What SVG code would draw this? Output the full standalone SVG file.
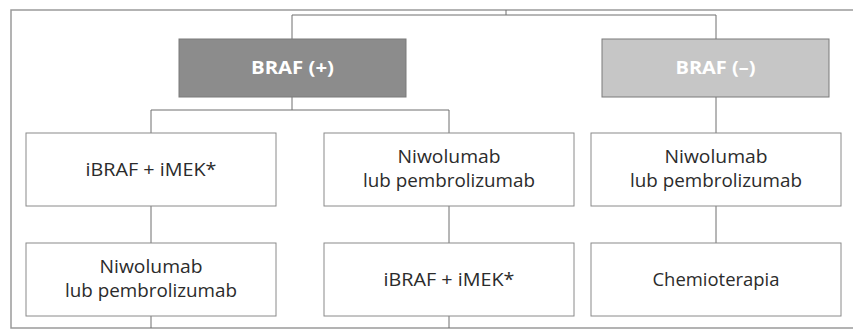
<svg xmlns="http://www.w3.org/2000/svg" width="853" height="334" viewBox="0 0 853 334">
<style>
.frame{fill:none;stroke:#9a9a9a;stroke-width:1.5}
.box{fill:#fff;stroke:#8a8a8a;stroke-width:1}
.hdr{stroke:#7a7a7a;stroke-width:1}
.c{fill:none;stroke:#6e6e6e;stroke-width:1}
.t{font-family:"Open Sans","Noto Sans",sans-serif;font-size:19px;fill:#2b2b2b;text-anchor:middle}
.h{font-family:"Open Sans","Noto Sans",sans-serif;font-size:17px;font-weight:bold;fill:#fff;text-anchor:middle}
</style>
<rect width="853" height="334" fill="#fff"/>
<path class="frame" d="M853,10 H11 V328 H853"/>
<g id="connectors">
<path class="c" d="M506,10 V15 M292,15 H716 M292,15 V39 M716,15 V39"/>
<path class="c" d="M292,97 V110 M151,110 H449 M151,110 V133 M449,110 V133 M716,97 V133"/>
<path class="c" d="M151,206 V243 M449,206 V243 M716,206 V243"/>
<path class="c" d="M151,316 V328 M449,316 V328"/>
</g>
<g id="braf-pos">
<rect class="hdr" x="179" y="39" width="227" height="58" fill="#8c8c8c"/>
<text class="h" x="292.5" y="74" textLength="83" lengthAdjust="spacingAndGlyphs">BRAF (+)</text>
</g>
<g id="braf-neg">
<rect class="hdr" x="602" y="39" width="227" height="58" fill="#c6c6c6"/>
<text class="h" x="715.5" y="74" textLength="80" lengthAdjust="spacingAndGlyphs">BRAF (–)</text>
</g>
<g id="n1">
<rect class="box" x="26" y="133" width="250" height="73"/>
<text class="t" x="151" y="176" textLength="131" lengthAdjust="spacingAndGlyphs">iBRAF + iMEK*</text>
</g>
<g id="n2">
<rect class="box" x="324" y="133" width="250" height="73"/>
<text class="t" x="449" y="162.5" textLength="103" lengthAdjust="spacingAndGlyphs">Niwolumab</text>
<text class="t" x="449" y="186.5" textLength="172" lengthAdjust="spacingAndGlyphs">lub pembrolizumab</text>
</g>
<g id="n3">
<rect class="box" x="591" y="133" width="250" height="73"/>
<text class="t" x="716" y="162.5" textLength="103" lengthAdjust="spacingAndGlyphs">Niwolumab</text>
<text class="t" x="716" y="186.5" textLength="172" lengthAdjust="spacingAndGlyphs">lub pembrolizumab</text>
</g>
<g id="n4">
<rect class="box" x="26" y="243" width="250" height="73"/>
<text class="t" x="151" y="272.5" textLength="103" lengthAdjust="spacingAndGlyphs">Niwolumab</text>
<text class="t" x="151" y="296.5" textLength="172" lengthAdjust="spacingAndGlyphs">lub pembrolizumab</text>
</g>
<g id="n5">
<rect class="box" x="324" y="243" width="250" height="73"/>
<text class="t" x="449" y="286" textLength="131" lengthAdjust="spacingAndGlyphs">iBRAF + iMEK*</text>
</g>
<g id="n6">
<rect class="box" x="591" y="243" width="250" height="73"/>
<text class="t" x="716" y="286" textLength="127" lengthAdjust="spacingAndGlyphs">Chemioterapia</text>
</g>
</svg>
